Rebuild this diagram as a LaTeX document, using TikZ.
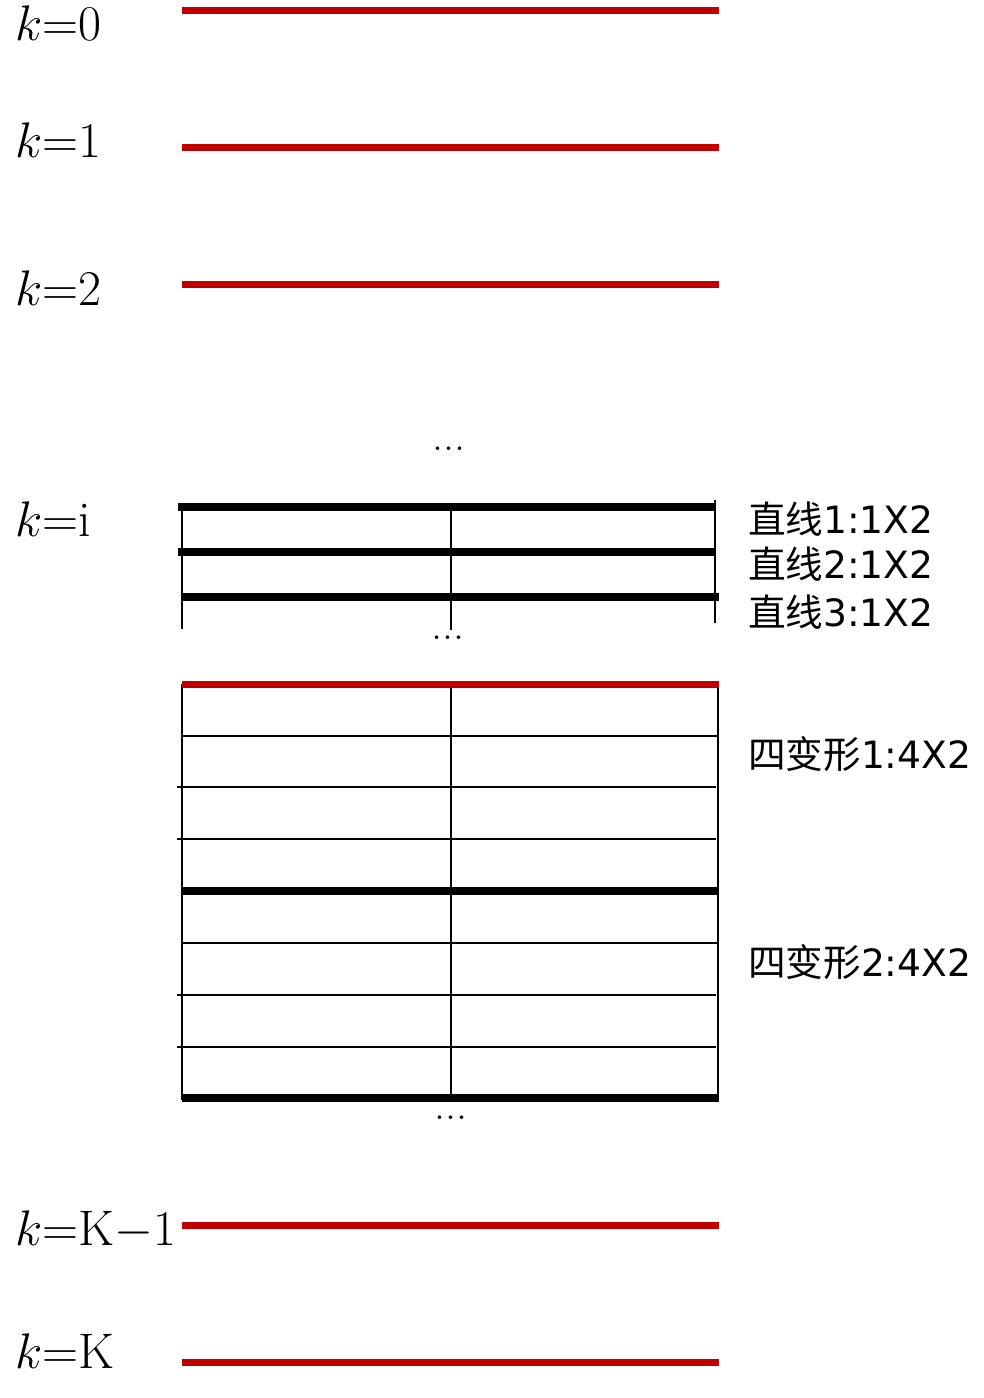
\RequirePackage{fix-cm}
\documentclass[tikz,border=0pt]{standalone}
\usepackage{fontspec}
\newfontfamily\cjk{Noto Sans CJK SC}
\newfontfamily\dv{DejaVu Sans}
\DeclareMathSizes{50}{50}{35}{25}
\definecolor{lred}{RGB}{192,0,0}
\begin{document}
\begin{tikzpicture}[x=1pt,y=-1pt,
  redline/.style={draw=lred,line width=7pt},
  heavyline/.style={draw=black,line width=7.5pt},
  thinline/.style={draw=black,line width=2.5pt},
  vline/.style={draw=black,line width=2.5pt},
  klabel/.style={anchor=base west,inner sep=0pt,font=\fontsize{50}{54}\selectfont},
  rlabel/.style={anchor=west,inner sep=0pt,font=\fontsize{37.6}{42}\selectfont},
  dots/.style={inner sep=0pt,font=\fontsize{44}{46}\selectfont}]
\useasboundingbox (0,0) rectangle (984,1398);
% k labels
\node[klabel] (k0) at (15,40) {$k$=0};
\node[klabel] (k1) at (15,157) {$k$=1};
\node[klabel] (k2) at (15,305) {$k$=2};
\node[klabel] (ki) at (15,536) {$k$=i};
\node[klabel] (kK1) at (15,1245) {$k$=K$-$1};
\node[klabel] (kK) at (15,1368) {$k$=K};
% red lines
\draw[redline] (182,10) -- (719,10);
\draw[redline] (182,147) -- (719,147);
\draw[redline] (182,284) -- (719,284);
\draw[redline] (182,1225) -- (719,1225);
\draw[redline] (182,1362) -- (719,1362);
% dots
\node[dots] (d1) at (449,449) {...};
\node[dots] (d2) at (448,638) {...};
\node[dots] (d3) at (451,1118) {...};
% k=i section
\draw[vline] (182,507) -- (182,629);
\draw[vline] (451,507) -- (451,630);
\draw[vline] (715,500) -- (715,623);
\draw[heavyline] (178,507) -- (716,507);
\draw[heavyline] (178,552) -- (716,552);
\draw[heavyline] (182,597) -- (719,597);
% grid
\draw[vline] (182,684) -- (182,1100);
\draw[vline] (451,684) -- (451,1095);
\draw[vline] (718,688) -- (718,1100);
\draw[thinline] (181,736) -- (719,736);
\draw[thinline] (177,787) -- (716,787);
\draw[thinline] (177,839) -- (716,839);
\draw[thinline] (181,943) -- (719,943);
\draw[thinline] (177,995) -- (716,995);
\draw[thinline] (177,1047) -- (716,1047);
\draw[heavyline] (182,891) -- (719,891);
\draw[heavyline] (182,1098) -- (719,1098);
\draw[redline] (182,684) -- (719,684);
% right labels
\node[rlabel] (l1) at (748,519) {{\cjk 直线}{\dv 1:1X2}};
\node[rlabel] (l2) at (748,564) {{\cjk 直线}{\dv 2:1X2}};
\node[rlabel] (l3) at (748,612) {{\cjk 直线}{\dv 3:1X2}};
\node[rlabel] (q1) at (748,754) {{\cjk 四变形}{\dv 1:4X2}};
\node[rlabel] (q2) at (748,962) {{\cjk 四变形}{\dv 2:4X2}};
\end{tikzpicture}
\end{document}
